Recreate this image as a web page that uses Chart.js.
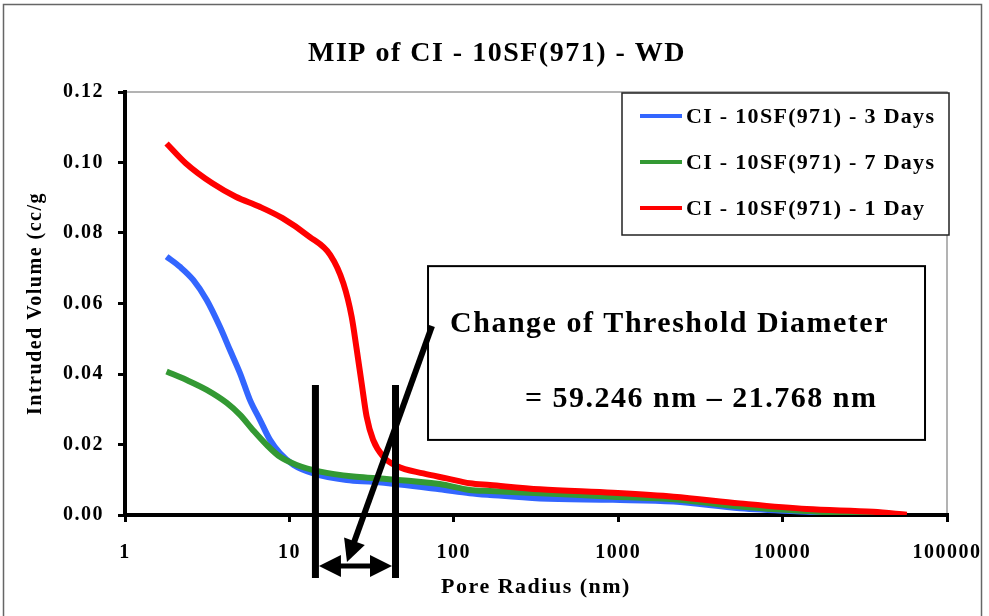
<!DOCTYPE html>
<html>
<head>
<meta charset="utf-8">
<title>MIP of CI - 10SF(971) - WD</title>
<script src="https://cdn.jsdelivr.net/npm/chart.js@4.4.1/dist/chart.umd.min.js"></script>
<style>
  html, body { margin: 0; padding: 0; background: #fff; }
  #wrap { width: 989px; height: 616px; }
</style>
</head>
<body>
<div id="wrap"><canvas id="myChart" width="989" height="616"></canvas></div>
<script>
const SERIF = "'Liberation Serif', 'Times New Roman', serif";

const chartTitle = "MIP of CI - 10SF(971) - WD";

// pore radius (nm) / intruded volume (cc/g)
const radius3Days = [1.79, 2.16, 2.6, 3.14, 3.78, 4.35, 5.01, 5.76, 6.62, 7.62, 8.77, 10.6, 14.0, 22.3, 32.4, 82, 125, 166, 334, 930, 2170, 5500, 14000, 35600];
const volume3Days = [0.0733, 0.0704, 0.0667, 0.0610, 0.0534, 0.0468, 0.0402, 0.0326, 0.0270, 0.0213, 0.0175, 0.0142, 0.0118, 0.0099, 0.0094, 0.0073, 0.0062, 0.0057, 0.0047, 0.0043, 0.0038, 0.0019, 0.0009, 0.0001];

const radius7Days = [1.79, 2.37, 3.14, 4.16, 5.01, 6.03, 7.27, 8.77, 11.07, 15.4, 24.5, 34.0, 82, 125, 166, 334, 930, 2170, 5500, 14000, 35600, 48000];
const volume7Days = [0.0407, 0.0383, 0.0355, 0.0318, 0.0284, 0.0240, 0.0199, 0.0165, 0.0142, 0.0123, 0.0109, 0.0104, 0.0088, 0.0071, 0.0068, 0.0062, 0.0052, 0.0045, 0.0024, 0.0011, 0.0002, 0.0];

const radius1Day = [1.79, 2.34, 3.4, 4.72, 6.55, 9.08, 13.2, 17.7, 21.3, 23.9, 25.7, 27.5, 29.5, 32.3, 37.3, 44.9, 65.3, 90.5, 125, 166, 334, 930, 2170, 5500, 14000, 35600, 57000];
const volume1Day = [0.1054, 0.0998, 0.0941, 0.0903, 0.0875, 0.0842, 0.0790, 0.0738, 0.0657, 0.0563, 0.0468, 0.0374, 0.0279, 0.0213, 0.0165, 0.0139, 0.0118, 0.0104, 0.0090, 0.0085, 0.0073, 0.0063, 0.0052, 0.0033, 0.0017, 0.0009, 0.0001];

const seriesNames = ["CI - 10SF(971) - 3 Days", "CI - 10SF(971) - 7 Days", "CI - 10SF(971) - 1 Day"];
const seriesColors = ["#3366FF", "#339933", "#FF0000"];

const xTickValues = [1, 10, 100, 1000, 10000, 100000];
const yTickValues = [0, 0.02, 0.04, 0.06, 0.08, 0.10, 0.12];

// threshold note: marker lines, arrows and text box (radius nm, volume cc/g)
const markerRadii = [14.4, 44.2];
const markerTop = 0.0369;
const markerBottom = -0.0179;
const spanArrowY = -0.0145;
const pointerStart = [73.7, 0.0536];
const pointerEnd = [22.4, -0.0133];
const noteCorners = [69.7, 0.0706, 73500, 0.0213];
const noteLines = ["Change of Threshold Diameter", "= 59.246 nm \u2013 21.768 nm"];

function toPoints(xs, ys) {
  return xs.map((r, i) => ({ x: r, y: ys[i] }));
}

function arrowHead(ctx, x0, y0, x1, y1, len, half) {
  const a = Math.atan2(y1 - y0, x1 - x0);
  ctx.beginPath();
  ctx.moveTo(x1, y1);
  ctx.lineTo(x1 - len * Math.cos(a) + half * Math.sin(a), y1 - len * Math.sin(a) - half * Math.cos(a));
  ctx.lineTo(x1 - len * Math.cos(a) - half * Math.sin(a), y1 - len * Math.sin(a) + half * Math.cos(a));
  ctx.closePath();
  ctx.fill();
}

// keep the plot area fixed, whatever the tick labels measure
function noLabelPadding(scale) {
  scale.paddingLeft = 0;
  scale.paddingRight = 0;
  scale.paddingTop = 0;
  scale.paddingBottom = 0;
}

const framePlugin = {
  id: "frame",
  beforeDraw(chart) {
    const { ctx, chartArea: a } = chart;
    ctx.letterSpacing = "1.5px";
    ctx.save();
    ctx.strokeStyle = "#666";
    ctx.lineWidth = 1.5;
    ctx.strokeRect(3.5, 4.5, 978, 700);
    ctx.strokeStyle = "#9a9a9a";
    ctx.beginPath();
    ctx.moveTo(a.left, a.top);
    ctx.lineTo(a.right, a.top);
    ctx.lineTo(a.right, a.bottom);
    ctx.stroke();

    ctx.fillStyle = "#000";
    ctx.font = "bold 28px " + SERIF;
    ctx.textAlign = "center";
    ctx.textBaseline = "alphabetic";
    ctx.fillText(chartTitle, 497, 61);
    ctx.restore();
  }
};

const legendPlugin = {
  id: "legendBox",
  afterDraw(chart) {
    const { ctx, chartArea: a } = chart;
    const w = 327, h = 142;
    const left = a.right + 2 - w, top = a.top + 1;
    ctx.save();
    ctx.fillStyle = "#fff";
    ctx.fillRect(left, top, w, h);
    ctx.strokeStyle = "#222";
    ctx.lineWidth = 1.5;
    ctx.strokeRect(left, top, w, h);
    ctx.font = "bold 22px " + SERIF;
    ctx.letterSpacing = "1.3px";
    ctx.textBaseline = "middle";
    chart.data.datasets.forEach((ds, i) => {
      const yy = top + 23 + i * 46;
      ctx.strokeStyle = ds.borderColor;
      ctx.lineWidth = 4;
      ctx.beginPath();
      ctx.moveTo(left + 18, yy);
      ctx.lineTo(left + 60, yy);
      ctx.stroke();
      ctx.fillStyle = "#000";
      ctx.fillText(ds.label, left + 64, yy + 1);
    });
    ctx.restore();
  }
};

const notePlugin = {
  id: "thresholdNote",
  afterDraw(chart) {
    const { ctx, scales: { x, y } } = chart;
    const px = v => x.getPixelForValue(v);
    const py = v => y.getPixelForValue(v);
    ctx.save();

    // text box
    const bx = px(noteCorners[0]), by = py(noteCorners[1]);
    const bw = px(noteCorners[2]) - bx, bh = py(noteCorners[3]) - by;
    ctx.fillStyle = "#fff";
    ctx.fillRect(bx, by, bw, bh);
    ctx.strokeStyle = "#000";
    ctx.lineWidth = 2;
    ctx.strokeRect(bx, by, bw, bh);
    ctx.fillStyle = "#000";
    ctx.font = "bold 30px " + SERIF;
    ctx.letterSpacing = "1.5px";
    ctx.textBaseline = "alphabetic";
    ctx.fillText(noteLines[0], bx + 22, by + 66);
    ctx.fillText(noteLines[1], bx + 97, by + 141);

    // vertical marker lines
    ctx.lineWidth = 7;
    markerRadii.forEach(r => {
      ctx.beginPath();
      ctx.moveTo(px(r), py(markerTop));
      ctx.lineTo(px(r), py(markerBottom));
      ctx.stroke();
    });

    // double arrow between the markers
    const ya = py(spanArrowY);
    const xl = px(markerRadii[0]) + 3.5, xr = px(markerRadii[1]) - 3.5;
    ctx.lineWidth = 5;
    ctx.beginPath();
    ctx.moveTo(xl + 18, ya);
    ctx.lineTo(xr - 18, ya);
    ctx.stroke();
    arrowHead(ctx, xr, ya, xl, ya, 22, 11);
    arrowHead(ctx, xl, ya, xr, ya, 22, 11);

    // pointer from the box down to the span
    const x0 = px(pointerStart[0]), y0 = py(pointerStart[1]);
    const x1 = px(pointerEnd[0]), y1 = py(pointerEnd[1]);
    const ang = Math.atan2(y1 - y0, x1 - x0);
    ctx.lineWidth = 6;
    ctx.beginPath();
    ctx.moveTo(x0, y0);
    ctx.lineTo(x1 - 16 * Math.cos(ang), y1 - 16 * Math.sin(ang));
    ctx.stroke();
    arrowHead(ctx, x0, y0, x1, y1, 22, 11);

    ctx.restore();
  }
};

Chart.defaults.color = "#000";
Chart.defaults.font.family = SERIF;
Chart.defaults.font.weight = "bold";

const chart = new Chart(document.getElementById("myChart"), {
  type: "line",
  data: {
    datasets: [
      { label: seriesNames[0], data: toPoints(radius3Days, volume3Days), borderColor: seriesColors[0], order: 2 },
      { label: seriesNames[1], data: toPoints(radius7Days, volume7Days), borderColor: seriesColors[1], order: 1 },
      { label: seriesNames[2], data: toPoints(radius1Day, volume1Day), borderColor: seriesColors[2], order: 0 }
    ]
  },
  options: {
    responsive: false,
    animation: false,
    devicePixelRatio: 1,
    layout: { padding: { left: 0, right: 42, top: 92, bottom: 0 } },
    elements: {
      line: { borderWidth: 6, cubicInterpolationMode: "monotone", fill: false },
      point: { radius: 0 }
    },
    scales: {
      x: {
        type: "logarithmic",
        min: 1,
        max: 100000,
        afterBuildTicks: scale => { scale.ticks = xTickValues.map(v => ({ value: v })); },
        afterFit: scale => { scale.height = 101; noLabelPadding(scale); },
        ticks: {
          font: { size: 20, weight: "bold" },
          padding: 19,
          maxRotation: 0,
          autoSkip: false,
          callback: v => String(v)
        },
        grid: { drawOnChartArea: false, color: "#000", lineWidth: 3, tickLength: 7 },
        border: { color: "#000", width: 4 },
        title: {
          display: true,
          text: "Pore Radius (nm)",
          font: { size: 22, weight: "bold" },
          padding: { top: 0, bottom: 15 }
        }
      },
      y: {
        min: 0,
        max: 0.12,
        afterBuildTicks: scale => { scale.ticks = yTickValues.map(v => ({ value: v })); },
        afterFit: scale => { scale.width = 125; noLabelPadding(scale); },
        ticks: {
          font: { size: 20, weight: "bold" },
          padding: 14,
          callback: v => v.toFixed(2)
        },
        grid: { drawOnChartArea: false, color: "#000", lineWidth: 3, tickLength: 7 },
        border: { color: "#000", width: 4 },
        title: {
          display: true,
          text: "Intruded Volume (cc/g",
          font: { size: 20, weight: "bold" },
          padding: { top: 24, bottom: 0 }
        }
      }
    },
    plugins: {
      legend: { display: false },
      tooltip: { enabled: false },
      title: { display: false }
    }
  },
  plugins: [framePlugin, legendPlugin, notePlugin]
});
</script>
</body>
</html>
